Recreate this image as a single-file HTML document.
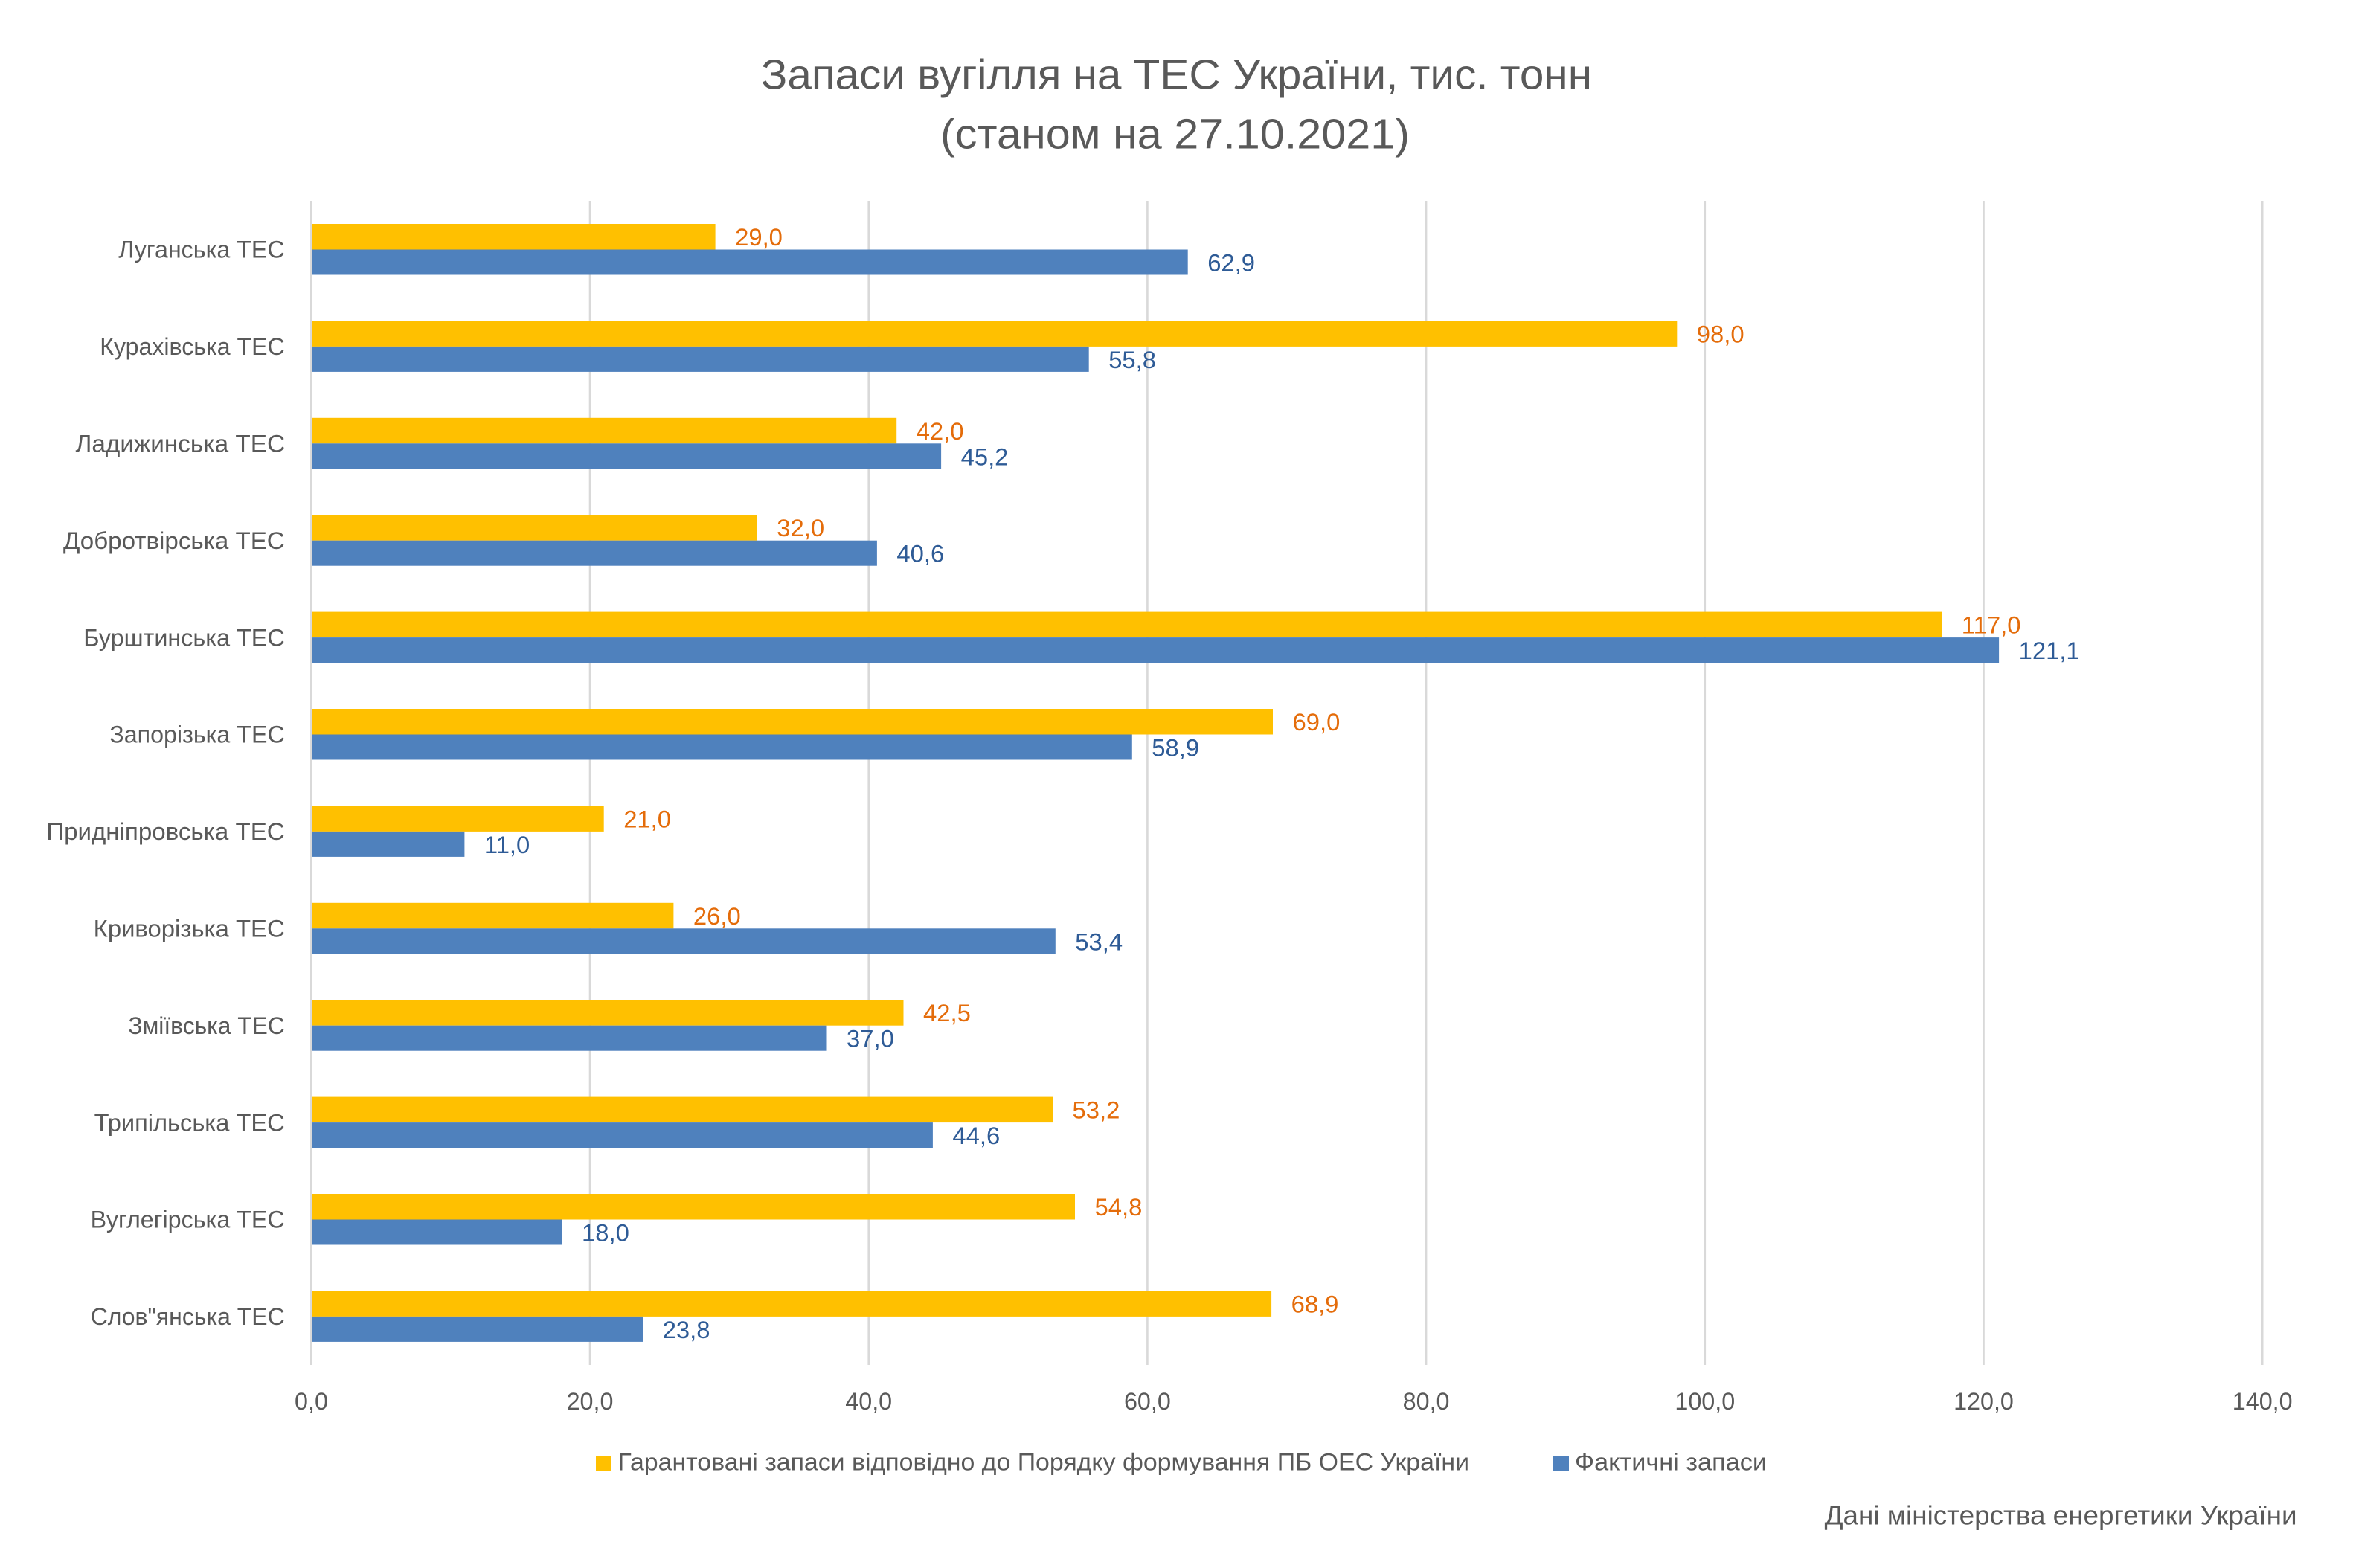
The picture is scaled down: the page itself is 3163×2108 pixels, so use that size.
<!DOCTYPE html>
<html>
<head>
<meta charset="utf-8">
<style>
html,body{margin:0;padding:0;background:#fff;}
svg{display:block;}
text{font-family:"Liberation Sans","DejaVu Sans",sans-serif;}
</style>
</head>
<body>
<svg width="3163" height="2108" viewBox="0 0 3163 2108" xmlns="http://www.w3.org/2000/svg">
<rect x="0" y="0" width="3163" height="2108" fill="#ffffff"/>

<!-- Title -->
<text x="1023" y="119.3" font-size="57" fill="#595959" textLength="1117" lengthAdjust="spacingAndGlyphs">Запаси вугілля на ТЕС України, тис. тонн</text>
<text x="1264" y="199.3" font-size="57" fill="#595959" textLength="631" lengthAdjust="spacingAndGlyphs">(станом на 27.10.2021)</text>

<!-- Gridlines -->
<g stroke="#D9D9D9" stroke-width="2.6">
<line x1="418.3" y1="270" x2="418.3" y2="1835"/>
<line x1="793.0" y1="270" x2="793.0" y2="1835"/>
<line x1="1167.7" y1="270" x2="1167.7" y2="1835"/>
<line x1="1542.4" y1="270" x2="1542.4" y2="1835"/>
<line x1="1917.1" y1="270" x2="1917.1" y2="1835"/>
<line x1="2291.8" y1="270" x2="2291.8" y2="1835"/>
<line x1="2666.5" y1="270" x2="2666.5" y2="1835"/>
<line x1="3041.2" y1="270" x2="3041.2" y2="1835"/>
</g>

<!-- Bars: yellow y=t+31 h=34.5 ; blue y=t+65.5 h=34 -->
<g fill="#FFC000">
<rect x="419.5" y="301" width="542.1" height="34.5"/>
<rect x="419.5" y="431.4" width="1834.8" height="34.5"/>
<rect x="419.5" y="561.8" width="785.7" height="34.5"/>
<rect x="419.5" y="692.2" width="598.3" height="34.5"/>
<rect x="419.5" y="822.6" width="2190.8" height="34.5"/>
<rect x="419.5" y="953" width="1291.5" height="34.5"/>
<rect x="419.5" y="1083.4" width="392.2" height="34.5"/>
<rect x="419.5" y="1213.8" width="485.9" height="34.5"/>
<rect x="419.5" y="1344.2" width="795" height="34.5"/>
<rect x="419.5" y="1474.6" width="995.5" height="34.5"/>
<rect x="419.5" y="1605" width="1025.5" height="34.5"/>
<rect x="419.5" y="1735.4" width="1289.6" height="34.5"/>
</g>
<g fill="#4F81BD">
<rect x="419.5" y="335.5" width="1177.2" height="34"/>
<rect x="419.5" y="465.9" width="1044.2" height="34"/>
<rect x="419.5" y="596.3" width="845.6" height="34"/>
<rect x="419.5" y="726.7" width="759.4" height="34"/>
<rect x="419.5" y="857.1" width="2267.6" height="34"/>
<rect x="419.5" y="987.5" width="1102.3" height="34"/>
<rect x="419.5" y="1117.9" width="204.9" height="34"/>
<rect x="419.5" y="1248.3" width="999.3" height="34"/>
<rect x="419.5" y="1378.7" width="692" height="34"/>
<rect x="419.5" y="1509.1" width="834.4" height="34"/>
<rect x="419.5" y="1639.5" width="336" height="34"/>
<rect x="419.5" y="1769.9" width="444.7" height="34"/>
</g>

<!-- Data labels (orange) baseline t+60 -->
<g font-size="32.8" fill="#E46C0A">
<text x="988.1" y="330">29,0</text>
<text x="2280.8" y="460.4">98,0</text>
<text x="1231.7" y="590.8">42,0</text>
<text x="1044.3" y="721.2">32,0</text>
<text x="2636.8" y="851.6">117,0</text>
<text x="1737.5" y="982">69,0</text>
<text x="838.2" y="1112.4">21,0</text>
<text x="931.9" y="1242.8">26,0</text>
<text x="1241" y="1373.2">42,5</text>
<text x="1441.5" y="1503.6">53,2</text>
<text x="1471.5" y="1634">54,8</text>
<text x="1735.6" y="1764.4">68,9</text>
</g>
<!-- Data labels (blue) baseline t+94.5 -->
<g font-size="32.8" fill="#2E5B96">
<text x="1623.2" y="364.5">62,9</text>
<text x="1490.2" y="494.9">55,8</text>
<text x="1291.6" y="625.3">45,2</text>
<text x="1205.4" y="755.7">40,6</text>
<text x="2713.6" y="886.1">121,1</text>
<text x="1548.3" y="1016.5">58,9</text>
<text x="650.9" y="1146.9">11,0</text>
<text x="1445.3" y="1277.3">53,4</text>
<text x="1138" y="1407.7">37,0</text>
<text x="1280.4" y="1538.1">44,6</text>
<text x="782" y="1668.5">18,0</text>
<text x="890.7" y="1798.9">23,8</text>
</g>

<!-- Category labels baseline t+76.7 -->
<g font-size="32" fill="#595959">
<text x="159.3" y="346.7" textLength="223.4" lengthAdjust="spacingAndGlyphs">Луганська ТЕС</text>
<text x="134.3" y="477.1" textLength="248.4" lengthAdjust="spacingAndGlyphs">Курахівська ТЕС</text>
<text x="101.5" y="607.5" textLength="281.5" lengthAdjust="spacingAndGlyphs">Ладижинська ТЕС</text>
<text x="85" y="737.9" textLength="297.7" lengthAdjust="spacingAndGlyphs">Добротвірська ТЕС</text>
<text x="112.3" y="868.3" textLength="270.4" lengthAdjust="spacingAndGlyphs">Бурштинська ТЕС</text>
<text x="147.3" y="998.7" textLength="235.4" lengthAdjust="spacingAndGlyphs">Запорізька ТЕС</text>
<text x="62.3" y="1129.1" textLength="320.4" lengthAdjust="spacingAndGlyphs">Придніпровська ТЕС</text>
<text x="125.7" y="1259.5" textLength="257" lengthAdjust="spacingAndGlyphs">Криворізька ТЕС</text>
<text x="172.3" y="1389.9" textLength="210.4" lengthAdjust="spacingAndGlyphs">Зміївська ТЕС</text>
<text x="126.7" y="1520.3" textLength="256" lengthAdjust="spacingAndGlyphs">Трипільська ТЕС</text>
<text x="121.7" y="1650.7" textLength="261" lengthAdjust="spacingAndGlyphs">Вуглегірська ТЕС</text>
<text x="121.7" y="1781.1" textLength="261" lengthAdjust="spacingAndGlyphs">Слов&quot;янська ТЕС</text>
</g>

<!-- X axis tick labels -->
<g font-size="32.3" fill="#595959" text-anchor="middle">
<text x="418.5" y="1895">0,0</text>
<text x="793.0" y="1895">20,0</text>
<text x="1167.7" y="1895">40,0</text>
<text x="1542.4" y="1895">60,0</text>
<text x="1917.1" y="1895">80,0</text>
<text x="2291.8" y="1895">100,0</text>
<text x="2666.5" y="1895">120,0</text>
<text x="3041.2" y="1895">140,0</text>
</g>

<!-- Legend -->
<rect x="801" y="1957" width="21" height="21" fill="#FFC000"/>
<text x="830.5" y="1976.7" font-size="32" fill="#595959" textLength="1144.5" lengthAdjust="spacingAndGlyphs">Гарантовані запаси відповідно до Порядку формування ПБ ОЕС України</text>
<rect x="2088" y="1957" width="21" height="21" fill="#4F81BD"/>
<text x="2117" y="1976.7" font-size="32" fill="#595959" textLength="258" lengthAdjust="spacingAndGlyphs">Фактичні запаси</text>

<!-- Footer -->
<text x="2452.6" y="2049.3" font-size="36" fill="#595959" textLength="635" lengthAdjust="spacingAndGlyphs">Дані міністерства енергетики України</text>
</svg>
</body>
</html>
